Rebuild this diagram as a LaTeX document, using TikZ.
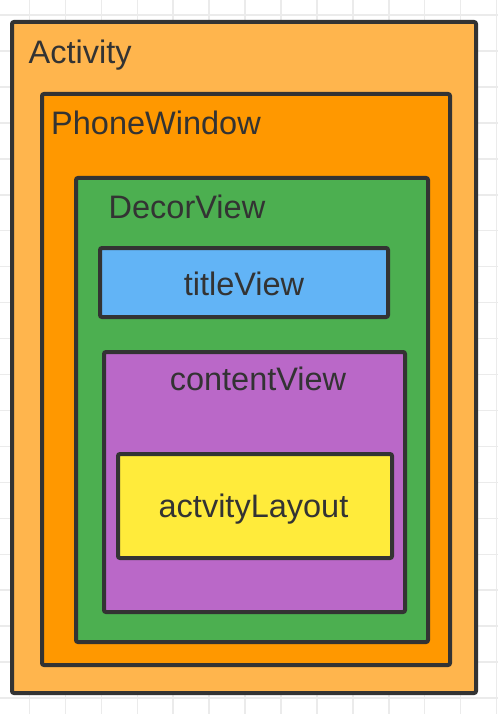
\documentclass[tikz,border=0pt]{standalone}
\usepackage{fontspec}
\setmainfont{Liberation Sans}
\definecolor{linec}{HTML}{333333}
\definecolor{textc}{HTML}{333333}
\definecolor{gridc}{HTML}{EBEBEB}
\definecolor{actc}{HTML}{FFB54D}
\definecolor{phonec}{HTML}{FF9800}
\definecolor{decorc}{HTML}{4CAF50}
\definecolor{titlec}{HTML}{62B4F6}
\definecolor{contentc}{HTML}{BA68C8}
\definecolor{layoutc}{HTML}{FFEB3B}
\begin{document}
\begin{tikzpicture}[x=1pt,y=-1pt,
  box/.style={draw=linec, line width=4pt, rounded corners=2pt, inner sep=0pt, anchor=center},
  lbl/.style={text=textc, font=\fontsize{32.5}{38}\selectfont, inner sep=0pt}]
\useasboundingbox (0,0) rectangle (498,714);
\fill[white] (0,0) rectangle (498,714);
\foreach \i in {0,...,13} \draw[gridc, line width=1.5pt] ({29.5+35.93*\i},0) -- ({29.5+35.93*\i},714);
\foreach \j in {0,...,19} \draw[gridc, line width=1.5pt] (0,{15+35.95*\j}) -- (498,{15+35.95*\j});
% boxes
\node[box, fill=actc, minimum width=464pt, minimum height=671pt] (activity) at (244,357.5) {};
\node[box, fill=phonec, minimum width=408pt, minimum height=571pt] (phone) at (246,379.5) {};
\node[box, fill=decorc, minimum width=352pt, minimum height=464pt] (decor) at (252,410) {};
\node[box, fill=titlec, minimum width=288pt, minimum height=69pt] (title) at (244,282.5) {};
\node[box, fill=contentc, minimum width=301pt, minimum height=260pt] (content) at (254.5,482) {};
\node[box, fill=layoutc, minimum width=274pt, minimum height=104pt] (layout) at (255,506) {};
% labels
\node[lbl, anchor=base west] (lactivity) at (28.5,63.3) {Activity};
\node[lbl, anchor=base west] (lphone) at (51,134.3) {PhoneWindow};
\node[lbl, anchor=base west] (ldecor) at (108.5,218.3) {DecorView};
\node[lbl, anchor=base] (ltitle) at (244,295) {titleView};
\node[lbl, anchor=base] (lcontent) at (258,390) {contentView};
\node[lbl, anchor=base] (llayout) at (253.5,517.3) {actvityLayout};
\end{tikzpicture}
\end{document}
